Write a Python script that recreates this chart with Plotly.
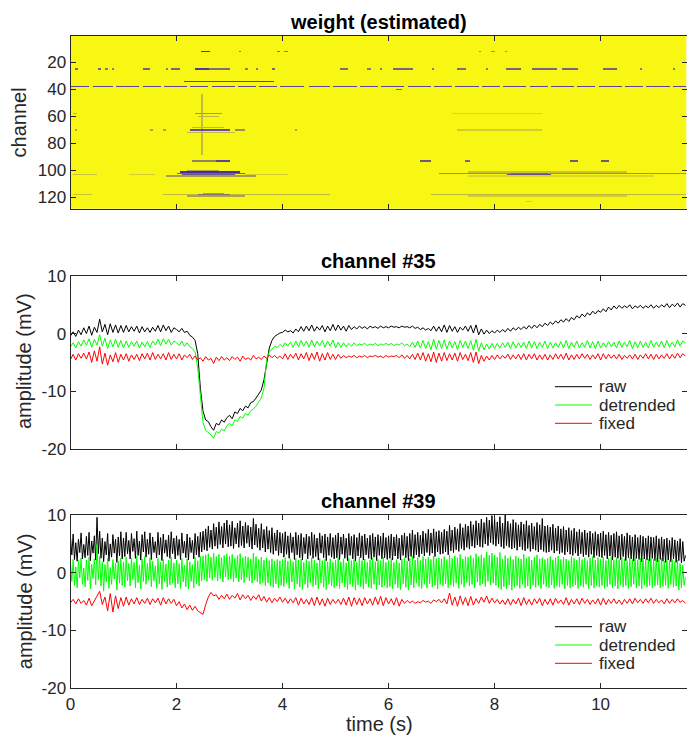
import numpy as np
import plotly.graph_objects as go

DT = 0.05          # sample spacing of channel #35 traces and the channel #39 "fixed" trace (s)
DT_FAST = 0.025    # sample spacing of the noisy channel #39 raw / detrended traces (s)
T_MAX = 11.62      # right end of the time axis (s)

raw35 = [
    -0.4, 0.3, -0.5, 0.6, -0.2, 1.0, 0.0, 1.3, -0.3, 1.1, 0.2, 2.5, 0.3, 1.6, -0.2, 1.7, 0.2, 1.5, 0.1, 1.4,
    0.2, 1.4, 0.3, 1.2, 0.4, 1.3, 0.1, 1.2, 0.3, 1.0, 0.2, 1.1, 0.4, 1.4, 0.3, 1.5, 0.5, 1.3, 0.2, 1.0,
    0.7, 0.3, 0.9, 0.2, 0.4, -0.3, -0.6, -1.2, -3.5, -9.5, -13.5, -15.0, -15.3, -16.2, -16.8, -15.6, -15.9, -15.0, -15.4, -14.6,
    -14.2, -14.8, -13.6, -13.9, -13.0, -13.4, -12.6, -12.9, -12.0, -11.8, -11.2, -10.6, -9.8, -8.0, -5.0, -2.5, -1.2, -0.5, -0.2, 0.1,
    0.2, 0.6, 0.3, 0.5, 0.1, 0.8, 0.3, 1.2, 0.4, 1.3, 0.5, 1.5, 0.4, 1.2, 0.6, 1.4, 0.3, 1.3, 0.5, 1.6,
    0.5, 1.5, 0.6, 1.3, 0.4, 1.4, 0.7, 1.2, 0.8, 1.3, 0.9, 1.2, 0.8, 1.3, 1.0, 1.2, 0.9, 1.3, 1.0, 1.2,
    1.0, 1.3, 1.1, 1.2, 1.0, 1.3, 1.1, 1.2, 1.0, 1.3, 0.9, 1.1, 0.7, 1.0, 0.6, 0.9, 0.5, 1.3, 0.4, 1.2,
    0.3, 1.5, 0.2, 1.4, 0.4, 1.2, 0.2, 1.1, 0.6, 1.3, 0.4, 1.4, 0.1, 1.5, -0.2, 0.8, -0.1, 0.6, 0.0, 0.5,
    0.1, 0.6, 0.2, 0.7, 0.3, 0.9, 0.4, 1.0, 0.6, 1.1, 0.7, 1.2, 0.8, 1.4, 0.9, 1.5, 1.0, 1.6, 1.2, 1.8,
    1.4, 2.0, 1.6, 2.2, 1.8, 2.4, 2.0, 2.6, 2.1, 2.8, 2.4, 3.1, 2.7, 3.4, 2.9, 3.6, 3.2, 3.9, 3.4, 4.0,
    3.7, 4.3, 3.8, 4.6, 4.1, 4.8, 4.3, 4.9, 4.4, 4.8, 4.5, 5.0, 4.3, 4.8, 4.5, 4.9, 4.4, 4.8, 4.5, 5.0,
    4.4, 4.9, 4.5, 5.0, 4.6, 5.2, 4.5, 5.1, 4.7, 5.3, 4.6, 5.2, 4.9,
]
det35 = [
    -2.3, -1.6, -2.5, -1.4, -2.2, -1.1, -2.0, -0.9, -2.4, -1.0, -2.0, -0.2, -2.2, -0.8, -2.6, -1.1, -2.3, -1.0, -2.4, -1.2,
    -2.5, -1.3, -2.4, -1.4, -2.2, -1.3, -2.5, -1.5, -2.3, -1.4, -2.4, -1.3, -2.0, -1.0, -2.1, -0.9, -1.8, -1.0, -2.0, -1.3,
    -1.6, -2.1, -1.3, -2.2, -1.6, -2.3, -2.6, -3.2, -6.0, -11.5, -15.5, -16.8, -17.2, -17.6, -18.2, -17.0, -17.3, -16.6, -16.9, -16.0,
    -15.6, -16.0, -15.0, -15.3, -14.4, -14.7, -13.9, -14.2, -13.4, -13.1, -12.6, -12.0, -11.2, -9.5, -4.5, -3.2, -2.6, -2.2, -2.4, -1.9,
    -2.3, -1.6, -2.2, -1.5, -2.4, -1.3, -2.3, -1.2, -2.2, -1.3, -2.4, -1.1, -2.3, -1.3, -2.1, -1.2, -2.4, -1.3, -2.2, -1.1,
    -2.5, -1.5, -2.4, -1.6, -2.3, -1.7, -2.2, -1.6, -2.1, -1.8, -2.0, -1.7, -2.1, -1.8, -2.0, -1.7, -2.1, -1.8, -2.0, -1.7,
    -2.0, -1.7, -2.1, -1.8, -2.0, -1.6, -2.1, -1.8, -2.3, -1.5, -2.4, -1.3, -2.5, -1.2, -2.6, -1.4, -2.8, -1.0, -2.7, -1.2,
    -2.6, -1.1, -2.7, -1.3, -2.5, -1.4, -2.8, -1.2, -2.4, -1.3, -2.6, -1.2, -2.9, -1.0, -3.0, -1.6, -2.8, -1.8, -2.7, -1.7,
    -2.6, -1.7, -2.5, -1.6, -2.4, -1.5, -2.6, -1.4, -2.5, -1.6, -2.4, -1.5, -2.6, -1.3, -2.5, -1.4, -2.6, -1.5, -2.4, -1.3,
    -2.6, -1.5, -2.5, -1.6, -2.4, -1.4, -2.5, -1.2, -2.6, -1.5, -2.4, -1.3, -2.5, -1.6, -2.4, -1.2, -2.5, -1.4, -2.6, -1.3,
    -2.5, -1.6, -2.4, -1.4, -2.3, -1.5, -2.5, -1.3, -2.4, -1.5, -2.3, -1.2, -2.6, -1.4, -2.5, -1.3, -2.4, -1.5, -2.5, -1.2,
    -2.4, -1.5, -2.3, -1.3, -2.5, -1.2, -2.4, -1.5, -2.3, -1.1, -2.2, -1.3, -1.6,
]
fix35 = [
    -4.5, -3.6, -4.6, -3.5, -4.3, -3.4, -4.4, -3.2, -5.0, -3.0, -4.8, -2.3, -5.3, -3.4, -5.5, -3.7, -4.9, -3.3, -5.0, -3.6,
    -4.6, -3.5, -4.8, -3.7, -4.5, -3.6, -4.7, -3.5, -4.4, -3.4, -4.6, -3.3, -4.5, -3.6, -4.4, -3.5, -4.6, -3.3, -4.5, -3.6,
    -4.4, -3.5, -4.6, -3.7, -4.2, -3.6, -4.5, -3.9, -4.6, -4.2, -4.8, -4.0, -4.6, -4.3, -5.2, -4.1, -4.7, -4.0, -4.6, -4.2,
    -4.7, -4.0, -4.5, -4.1, -4.8, -3.9, -4.5, -4.2, -4.6, -3.8, -4.4, -4.1, -4.5, -3.9, -4.3, -3.7, -4.2, -3.8, -4.3, -3.9,
    -4.4, -3.5, -4.5, -3.6, -4.3, -3.4, -4.6, -3.5, -4.4, -3.3, -4.7, -3.4, -4.5, -3.2, -4.8, -3.5, -4.6, -3.3, -4.5, -3.6,
    -4.5, -3.6, -4.3, -3.8, -4.2, -3.9, -4.1, -3.8, -4.2, -3.9, -4.1, -3.8, -4.2, -3.9, -4.0, -3.8, -4.1, -3.9, -4.2, -3.8,
    -4.1, -3.9, -4.0, -3.8, -4.2, -3.7, -4.3, -3.8, -4.4, -3.6, -4.5, -3.4, -4.6, -3.3, -4.8, -3.5, -4.9, -3.2, -5.0, -3.4,
    -4.8, -3.3, -4.7, -3.5, -4.6, -3.4, -4.8, -3.3, -4.5, -3.6, -4.7, -3.3, -5.0, -3.2, -5.2, -3.8, -4.8, -3.9, -4.6, -3.8,
    -4.5, -3.7, -4.4, -3.8, -4.3, -3.6, -4.5, -3.7, -4.4, -3.6, -4.5, -3.5, -4.6, -3.6, -4.4, -3.5, -4.6, -3.7, -4.5, -3.6,
    -4.6, -3.7, -4.5, -3.5, -4.4, -3.6, -4.5, -3.4, -4.6, -3.7, -4.5, -3.6, -4.4, -3.5, -4.3, -3.6, -4.5, -3.7, -4.4, -3.5,
    -4.6, -3.5, -4.4, -3.6, -4.3, -3.7, -4.4, -3.6, -4.5, -3.8, -4.3, -3.7, -4.4, -3.6, -4.5, -3.7, -4.3, -3.5, -4.4, -3.6,
    -4.5, -3.6, -4.4, -3.7, -4.3, -3.5, -4.4, -3.6, -4.3, -3.4, -4.2, -3.5, -3.9,
]
raw39 = [
    6.1, 3.1, 6.7, 2.3, 5.2, 2.0, 5.8, 3.5, 6.9, 2.4, 4.9, 2.6, 6.3, 3.0, 7.0, 2.1, 5.5, 3.4, 6.4, 2.2,
    9.6, 3.3, 7.2, 2.5, 6.0, 1.9, 5.4, 3.1, 6.8, 2.0, 5.0, 2.7, 6.6, 3.4, 5.8, 1.8, 6.2, 2.9, 7.1, 2.4,
    6.0, 2.8, 7.0, 3.3, 5.6, 2.4, 6.8, 3.7, 5.9, 2.5, 7.2, 3.0, 5.5, 2.2, 6.6, 3.6, 7.1, 2.7, 5.8, 3.2,
    6.9, 2.3, 6.2, 3.5, 5.4, 2.6, 7.0, 3.1, 6.1, 2.1, 6.7, 3.4, 5.7, 2.8, 6.5, 2.5, 7.1, 3.3, 6.0, 2.4,
    6.4, 3.0, 5.8, 2.3, 6.9, 3.4, 5.5, 2.6, 6.7, 2.2, 6.1, 3.5, 5.6, 2.4, 6.8, 3.1, 6.3, 2.7, 7.0, 3.6,
    7.2, 4.0, 7.6, 3.8, 8.1, 4.4, 7.4, 4.1, 8.5, 4.6, 7.9, 4.2, 8.8, 4.9, 8.0, 4.3, 8.6, 5.0, 9.1, 4.5,
    8.3, 4.6, 8.9, 4.2, 7.8, 5.0, 8.6, 4.4, 9.0, 4.7, 8.1, 4.3, 8.7, 5.1, 8.2, 4.5, 7.9, 4.1, 9.4, 4.8,
    8.4, 4.4, 7.7, 3.9, 8.5, 4.3, 7.5, 3.6, 8.0, 4.1, 7.3, 3.5, 7.8, 3.2, 6.9, 3.8, 7.4, 3.0, 7.0, 3.4,
    6.8, 2.7, 7.1, 3.2, 6.4, 2.5, 6.9, 3.5, 6.2, 2.3, 7.0, 3.1, 6.5, 2.6, 6.8, 2.2, 6.1, 3.3, 6.7, 2.4,
    6.3, 3.0, 7.0, 2.5, 6.6, 2.8, 6.0, 2.2, 6.9, 3.4, 6.4, 2.6, 6.7, 2.1, 6.2, 3.0, 6.8, 2.7, 6.1, 2.4,
    6.5, 2.6, 6.9, 2.3, 6.2, 3.2, 6.7, 2.5, 6.0, 2.1, 6.8, 3.0, 6.3, 2.4, 6.6, 2.0, 6.1, 2.9, 6.9, 2.6,
    6.4, 2.2, 6.7, 3.1, 6.0, 2.5, 6.5, 2.3, 6.8, 2.7, 6.2, 2.1, 6.6, 3.0, 6.3, 2.4, 6.9, 2.6, 6.1, 2.3,
    6.4, 2.5, 6.7, 2.2, 6.2, 2.9, 6.6, 2.4, 6.0, 2.2, 6.5, 3.0, 6.9, 2.6, 6.3, 2.1, 6.8, 2.8, 7.4, 2.5,
    6.6, 3.1, 7.0, 2.7, 6.5, 3.3, 7.2, 2.9, 6.8, 3.5, 7.5, 3.0, 6.9, 3.4, 7.6, 2.8, 7.1, 3.6, 7.3, 3.2,
    7.0, 3.3, 7.5, 3.6, 7.2, 3.1, 8.2, 3.8, 7.4, 3.5, 7.9, 4.0, 7.6, 3.7, 8.5, 4.2, 7.8, 3.9, 8.4, 4.4,
    8.1, 4.1, 8.9, 4.6, 8.3, 4.3, 9.0, 4.8, 8.6, 4.5, 9.3, 4.4, 8.7, 5.0, 9.6, 4.7, 9.1, 5.2, 9.9, 4.9,
    9.4, 4.6, 8.8, 5.0, 9.7, 4.5, 8.6, 4.2, 10.0, 4.7, 8.9, 4.4, 8.5, 4.1, 9.2, 4.3, 8.7, 3.9, 8.3, 4.5,
    8.8, 4.0, 8.4, 3.8, 9.0, 4.2, 8.2, 3.7, 8.6, 4.1, 8.0, 3.9, 8.7, 3.6, 8.3, 4.0, 9.4, 3.7, 8.1, 3.5,
    8.2, 3.6, 7.9, 3.9, 8.4, 3.4, 7.7, 3.8, 8.1, 3.3, 7.6, 3.5, 8.0, 3.1, 7.4, 3.6, 7.8, 3.2, 7.3, 3.0,
    7.7, 3.4, 7.1, 2.9, 7.5, 3.3, 7.0, 2.8, 7.4, 3.1, 6.9, 2.7, 7.2, 3.2, 6.8, 2.6, 7.1, 3.0, 6.7, 2.8,
    6.9, 2.6, 7.2, 3.0, 6.6, 2.4, 7.0, 2.9, 6.5, 2.2, 6.8, 2.7, 7.1, 2.5, 6.4, 2.3, 6.7, 2.8, 6.3, 2.1,
    6.9, 2.6, 6.5, 2.4, 6.2, 2.0, 6.6, 2.5, 6.1, 2.3, 6.5, 1.9, 6.3, 2.4, 6.0, 2.2, 6.4, 2.0, 6.2, 2.5,
    6.1, 2.1, 6.4, 1.9, 5.9, 2.3, 6.2, 2.0, 5.8, 1.8, 6.0, 2.2, 5.6, 1.9, 6.1, 2.4, 5.7, 1.8, 5.5, 2.1,
    5.9, 1.7, 5.4, 2.0, 3.0,
]
det39 = [
    1.8, -1.5, 2.3, -2.2, 1.0, -2.6, 2.1, -0.9, 2.6, -2.0, 0.8, -2.4, 2.2, -1.3, 2.7, -2.8, 1.5, -1.0, 2.4, -2.1,
    4.9, -1.2, 2.8, -2.3, 1.9, -3.2, 1.4, -1.6, 2.5, -2.7, 0.9, -2.0, 2.3, -1.1, 1.7, -3.0, 2.0, -1.8, 2.6, -2.2,
    1.9, -2.5, 2.7, -1.4, 1.6, -2.3, 2.5, -1.2, 1.8, -2.6, 2.9, -1.7, 1.3, -2.8, 2.4, -1.5, 2.8, -2.0, 1.6, -1.3,
    2.6, -2.4, 2.0, -1.4, 1.2, -2.7, 2.5, -1.9, 1.8, -2.9, 2.3, -1.6, 1.5, -2.5, 2.2, -2.1, 2.7, -1.8, 1.7, -2.6,
    2.2, -1.9, 1.6, -2.7, 2.5, -1.6, 1.3, -2.4, 2.4, -2.8, 1.9, -1.5, 1.4, -2.6, 2.6, -1.9, 2.1, -2.3, 2.8, -1.4,
    2.9, -1.2, 3.1, -1.5, 3.3, -0.9, 2.7, -1.3, 3.4, -0.8, 2.8, -1.4, 3.2, -1.0, 2.6, -1.6, 3.0, -0.7, 3.3, -1.2,
    2.9, -1.1, 3.2, -1.5, 2.5, -0.9, 3.0, -1.6, 3.3, -1.2, 2.6, -1.7, 2.9, -0.8, 2.7, -1.4, 2.4, -1.8, 3.4, -1.3,
    2.8, -1.6, 2.3, -2.0, 2.7, -1.7, 2.2, -2.2, 2.6, -1.8, 2.1, -2.3, 2.4, -2.5, 2.0, -1.9, 2.3, -2.6, 2.1, -2.2,
    2.3, -2.4, 2.6, -1.8, 2.0, -2.7, 2.4, -1.6, 1.9, -2.8, 2.5, -1.9, 2.2, -2.5, 2.4, -2.9, 1.8, -2.0, 2.3, -2.6,
    2.0, -1.7, 2.6, -2.4, 2.2, -2.1, 1.7, -2.8, 2.5, -1.8, 2.1, -2.5, 2.3, -2.9, 1.9, -2.0, 2.4, -2.3, 1.8, -2.6,
    2.2, -2.3, 2.6, -2.7, 1.9, -1.8, 2.4, -2.5, 1.7, -2.9, 2.5, -2.0, 2.1, -2.4, 2.3, -3.0, 1.8, -2.1, 2.7, -2.4,
    2.1, -2.8, 2.4, -1.9, 1.8, -2.5, 2.2, -2.7, 2.6, -2.0, 1.9, -2.9, 2.3, -2.1, 2.1, -2.5, 2.7, -2.2, 1.8, -2.6,
    2.1, -2.4, 2.5, -2.8, 1.8, -2.0, 2.3, -2.6, 1.7, -2.9, 2.4, -1.9, 2.6, -2.5, 2.0, -3.0, 2.5, -2.1, 2.9, -2.6,
    2.2, -1.8, 2.6, -2.4, 2.1, -2.7, 2.8, -2.0, 2.4, -2.6, 2.7, -1.9, 2.3, -2.5, 2.9, -2.2, 2.5, -2.8, 2.6, -2.0,
    2.4, -2.3, 2.8, -1.9, 2.3, -2.6, 3.1, -2.1, 2.5, -2.4, 2.9, -1.8, 2.6, -2.7, 3.2, -2.0, 2.4, -2.5, 2.8, -1.7,
    2.7, -2.3, 3.0, -2.0, 2.5, -2.6, 3.3, -1.6, 2.8, -2.2, 3.1, -1.9, 2.6, -2.4, 3.6, -1.5, 3.0, -2.1, 3.4, -1.8,
    3.1, -2.2, 2.7, -2.6, 3.5, -2.9, 2.4, -2.4, 3.0, -2.8, 2.5, -2.1, 2.8, -3.0, 2.3, -2.5, 2.9, -2.2, 2.6, -2.7,
    2.4, -2.0, 3.2, -2.6, 2.5, -2.3, 2.8, -2.8, 2.2, -2.1, 2.7, -2.5, 3.1, -2.2, 2.4, -2.7, 2.6, -2.0, 2.3, -2.4,
    2.5, -2.6, 2.8, -2.1, 2.2, -2.7, 2.6, -2.3, 2.9, -2.5, 2.3, -2.0, 2.7, -2.8, 2.4, -2.2, 2.1, -2.6, 2.8, -2.4,
    2.5, -2.1, 2.2, -2.7, 2.7, -2.3, 2.3, -2.5, 2.6, -2.0, 2.1, -2.8, 2.5, -2.2, 2.8, -2.6, 2.2, -2.3, 2.6, -2.5,
    2.4, -2.2, 2.7, -2.7, 2.1, -2.4, 2.5, -2.0, 2.8, -2.6, 2.2, -2.3, 2.6, -2.8, 2.3, -2.1, 2.7, -2.5, 2.4, -2.2,
    2.1, -2.7, 2.6, -2.4, 2.3, -2.0, 2.8, -2.6, 2.2, -2.3, 2.5, -2.8, 2.7, -2.1, 2.3, -2.5, 2.4, -2.2, 2.6, -2.6,
    2.3, -2.3, 2.6, -2.1, 2.2, -2.6, 2.5, -2.4, 2.0, -2.2, 2.4, -2.7, 2.1, -2.0, 2.3, -2.5, 1.9, -2.3, 2.2, -3.0,
    1.6, -2.6, 1.3, -2.2, -0.8,
]
fix39 = [
    -5.2, -4.6, -5.4, -4.5, -5.3, -4.8, -5.6, -4.4, -5.7, -4.9, -4.0, -3.2, -5.5, -4.2, -6.6, -3.6, -6.8, -4.0, -6.2, -4.3,
    -5.8, -4.2, -5.6, -4.5, -5.4, -4.3, -5.5, -4.6, -5.3, -4.4, -5.5, -4.5, -5.2, -4.4, -5.6, -4.3, -5.4, -4.5, -5.3, -4.6,
    -5.7, -5.0, -6.1, -5.4, -6.4, -5.6, -6.5, -5.8, -6.6, -6.9, -7.2, -5.5, -4.2, -3.4, -4.0, -3.8, -4.6, -3.9, -4.5, -3.7,
    -4.6, -3.9, -4.4, -3.6, -4.7, -3.8, -4.5, -3.9, -4.8, -4.0, -4.6, -3.8, -4.9, -4.1, -5.1, -4.3, -5.2, -4.4, -5.0, -4.2,
    -5.1, -4.4, -5.3, -4.5, -5.2, -4.3, -5.6, -4.4, -5.4, -4.6, -5.5, -4.3, -5.7, -4.2, -5.6, -4.5, -5.8, -4.4, -5.5, -4.6,
    -5.3, -4.6, -5.5, -4.4, -5.6, -4.2, -5.8, -4.3, -5.5, -4.4, -5.7, -4.3, -5.4, -4.5, -5.6, -4.2, -5.5, -4.1, -5.7, -4.3,
    -5.4, -4.5, -5.6, -4.3, -5.8, -4.6, -5.3, -4.8, -5.2, -4.9, -5.3, -5.0, -5.2, -4.8, -5.1, -4.9, -5.3, -4.7, -5.0, -4.6,
    -5.2, -4.5, -5.4, -3.5, -5.6, -4.2, -5.8, -4.0, -5.5, -4.3, -5.7, -4.1, -5.6, -4.5, -5.3, -4.2, -5.1, -4.0, -5.3, -4.4,
    -5.2, -4.6, -5.4, -4.7, -5.5, -4.5, -5.6, -4.6, -5.4, -4.4, -5.7, -4.3, -5.5, -4.6, -5.6, -4.5, -5.3, -4.4, -5.7, -4.6,
    -5.5, -4.5, -5.6, -4.4, -5.3, -4.7, -5.5, -4.3, -5.6, -4.6, -5.4, -4.5, -5.5, -4.4, -5.3, -4.6, -5.5, -4.7, -5.4, -4.5,
    -5.6, -4.4, -5.5, -4.6, -5.3, -4.5, -5.4, -4.7, -5.5, -4.6, -5.3, -4.5, -5.4, -4.4, -5.2, -4.6, -5.3, -4.5, -5.2, -4.4,
    -5.3, -4.6, -5.2, -4.7, -5.4, -4.5, -5.3, -4.6, -5.2, -4.5, -5.1, -4.8, -5.3,
]

# ---------------- weight map (estimated): 1 = full weight, 0 = rejected ----------------
N_CHANNELS = 128
W_BIN = 0.02
# (channel, t_start, t_end, weight)
weight_strong = [
    (34, 2.14, 3.84, 0.15), (12, 2.47, 2.64, 0.1), (25, 2.35, 2.62, 0.1), (25, 2.62, 3.0, 0.35),
    (70, 2.27, 3.0, 0.2), (101, 2.07, 3.2, 0.05), (102, 2.0, 3.3, 0.3), (103, 2.1, 3.1, 0.25),
    (93, 2.75, 3.0, 0.15), (103, 8.25, 9.05, 0.2), (102, 8.3, 9.0, 0.35),
]
weight_row38 = [
    (0.0, 0.35), (0.42, 0.8), (0.86, 1.3), (1.36, 1.7), (1.76, 2.2), (2.26, 2.6), (2.66, 3.1),
    (3.16, 3.5), (3.56, 3.9), (3.96, 4.4), (4.5, 4.9), (4.96, 5.4), (5.46, 5.8), (5.86, 6.3),
    (6.36, 6.8), (6.86, 7.2), (7.26, 7.7), (7.76, 8.1), (8.16, 8.6), (8.66, 9.0), (9.06, 9.5),
    (9.56, 9.9), (9.96, 10.4), (10.46, 10.8), (10.86, 11.3), (11.36, 11.62),
]
weight_dashes = [
    (25, 0.08, 0.14, 0.3), (25, 0.52, 0.58, 0.3), (25, 0.66, 0.7, 0.4), (25, 0.78, 0.82, 0.4),
    (25, 1.37, 1.5, 0.3), (25, 1.8, 1.84, 0.4), (25, 1.9, 2.06, 0.3), (25, 3.3, 3.34, 0.4),
    (25, 3.5, 3.54, 0.4), (25, 3.8, 3.86, 0.3), (25, 5.08, 5.23, 0.35), (25, 5.6, 5.66, 0.4),
    (25, 5.84, 5.88, 0.4), (25, 6.08, 6.45, 0.3), (25, 6.82, 6.86, 0.4), (25, 7.3, 7.45, 0.35),
    (25, 7.85, 7.89, 0.4), (25, 8.23, 8.5, 0.3), (25, 8.7, 9.17, 0.3), (25, 9.29, 9.57, 0.3),
    (25, 10.04, 10.3, 0.3), (25, 10.74, 10.78, 0.4), (25, 11.36, 11.4, 0.4),
    (93, 2.3, 2.75, 0.45), (93, 6.6, 6.8, 0.25), (93, 7.45, 7.54, 0.3), (93, 9.42, 9.58, 0.25),
    (93, 10.0, 10.15, 0.25),
    (12, 3.18, 3.22, 0.4), (12, 3.9, 3.96, 0.4), (12, 4.02, 4.1, 0.4), (12, 7.7, 7.74, 0.5),
    (12, 7.95, 7.99, 0.5), (12, 8.2, 8.24, 0.5), (40, 6.15, 6.25, 0.3),
    (70, 0.08, 0.12, 0.6), (70, 1.5, 1.56, 0.6), (70, 1.75, 1.8, 0.6), (70, 3.1, 3.3, 0.5),
    (70, 4.24, 4.28, 0.6),
]
weight_faint = [
    (58, 2.35, 2.85, 0.55), (60, 2.4, 2.8, 0.7), (58, 0.05, 0.12, 0.7), (58, 7.2, 8.9, 0.85),
    (70, 7.3, 8.9, 0.8), (72, 2.2, 3.1, 0.7), (68, 2.3, 2.9, 0.7),
    (104, 1.8, 3.5, 0.55), (100, 2.2, 2.8, 0.6), (103, 0.05, 0.5, 0.75), (103, 1.1, 1.6, 0.8),
    (103, 3.3, 4.1, 0.8), (102, 6.97, 11.62, 0.5), (101, 7.5, 10.5, 0.75), (104, 7.5, 11.0, 0.85),
    (118, 1.75, 4.9, 0.7), (118, 2.4, 3.0, 0.35), (119, 2.2, 3.3, 0.6), (117, 2.5, 2.9, 0.6),
    (118, 0.05, 0.4, 0.75), (118, 6.8, 11.62, 0.7), (119, 7.5, 10.5, 0.8), (123, 8.6, 8.7, 0.8),
]
# vertical streak: (t_start, t_end, channel_start, channel_end, weight)
weight_vertical = [(2.47, 2.51, 44, 88, 0.72)]

CHANNEL_TICKS = [20, 40, 60, 80, 100, 120]
AMP_TICKS = [-20, -10, 0, 10]
AMP_TICK_LABELS = ["-20", "-10", "0", "10"]
TIME_TICKS = [0, 2, 4, 6, 8, 10]
LEGEND_NAMES = ["raw", "detrended", "fixed"]
LEGEND_COLORS = ["#000000", "#00ff00", "#ff0000"]

# ---------------- build weight matrix ----------------
n_cols = int(round(T_MAX / W_BIN))
xc = (np.arange(n_cols) + 0.5) * W_BIN
chans = np.arange(1, N_CHANNELS + 1)
W = np.ones((N_CHANNELS, n_cols))

def mark(ch, t0, t1, val):
    m = (xc >= t0) & (xc <= t1)
    if not m.any():
        d = np.abs(xc - (t0 + t1) / 2)
        m = d == d.min()
    W[ch - 1, m] = np.minimum(W[ch - 1, m], val)

for ch, t0, t1, v in weight_faint + weight_dashes + weight_strong:
    mark(ch, t0, t1, v)
for t0, t1 in weight_row38:
    mark(38, t0, t1, 0.15)
for t0, t1, c0, c1, v in weight_vertical:
    for ch in range(c0, c1 + 1):
        mark(ch, t0, t1, v)

# ---------------- figure ----------------
FONT = "Liberation Sans, Arial, sans-serif"
AX = "#262626"
W_PX, H_PX = 687, 738
X0, X1 = 70.5, 686.5
XDOM = [X0 / W_PX, X1 / W_PX]

def px_x(x):
    return x / W_PX

def px_y(y):
    return 1 - y / H_PX

def ydom(top_px, bot_px):
    return [px_y(bot_px), px_y(top_px)]

def axis(**kw):
    d = dict(showline=True, linecolor=AX, linewidth=1, mirror="ticks", ticks="inside",
             ticklen=5, tickcolor=AX, tickwidth=1, showgrid=False, zeroline=False,
             automargin=False, fixedrange=True,
             tickfont=dict(family=FONT, size=17, color=AX))
    d.update(kw)
    return d

fig = go.Figure()
fig.add_trace(go.Heatmap(
    z=W, x=xc, y=chans, zmin=0, zmax=1, showscale=False, hoverinfo="skip",
    colorscale=[[0, "#3e26a8"], [1, "#f7f713"]], xaxis="x", yaxis="y"))

panels = [
    ("x2", "y2", [(raw35, DT), (det35, DT), (fix35, DT)]),
    ("x3", "y3", [(raw39, DT_FAST), (det39, DT_FAST), (fix39, DT)]),
]
for xa, ya, series in panels:
    for (vals, dt), name, col in zip(series, LEGEND_NAMES, LEGEND_COLORS):
        t = [i * dt for i in range(len(vals))]
        fig.add_trace(go.Scatter(x=t, y=vals, mode="lines", name=name, showlegend=False,
                                 line=dict(color=col, width=1), xaxis=xa, yaxis=ya))

fig.update_layout(
    width=W_PX, height=H_PX, margin=dict(l=0, r=0, t=0, b=0),
    paper_bgcolor="white", plot_bgcolor="white", showlegend=False,
    xaxis=axis(domain=XDOM, anchor="y", range=[0, T_MAX], tickvals=TIME_TICKS, showticklabels=False),
    yaxis=axis(domain=ydom(36, 208.7), anchor="x", range=[N_CHANNELS + 0.5, 0.5], tickvals=CHANNEL_TICKS),
    xaxis2=axis(domain=XDOM, anchor="y2", range=[0, T_MAX], tickvals=TIME_TICKS, showticklabels=False),
    yaxis2=axis(domain=ydom(276, 448.7), anchor="x2", range=[-20, 10], tickvals=AMP_TICKS,
                ticktext=AMP_TICK_LABELS),
    xaxis3=axis(domain=XDOM, anchor="y3", range=[0, T_MAX], tickvals=TIME_TICKS),
    yaxis3=axis(domain=ydom(515, 688.3), anchor="x3", range=[-20, 10], tickvals=AMP_TICKS,
                ticktext=AMP_TICK_LABELS),
)

# panel titles
for txt, ypx in [("weight (estimated)", 22), ("channel #35", 261), ("channel #39", 500.5)]:
    fig.add_annotation(text="<b>%s</b>" % txt, xref="paper", yref="paper",
                       x=(XDOM[0] + XDOM[1]) / 2, y=px_y(ypx), xanchor="center", yanchor="middle",
                       showarrow=False, font=dict(family=FONT, size=20, color="#000000"))

# axis titles
for txt, xpx, ypx, ang in [("channel", 19, 122.4, -90), ("amplitude (mV)", 24.5, 361.5, -90),
                           ("amplitude (mV)", 24.5, 601.7, -90), ("time (s)", 379, 724, 0)]:
    fig.add_annotation(text=txt, xref="paper", yref="paper", x=px_x(xpx), y=px_y(ypx),
                       xanchor="center", yanchor="middle", textangle=ang, showarrow=False,
                       font=dict(family=FONT, size=20, color=AX))

# legends (drawn in the lower right of each trace panel)
for rows in ([386.7, 405.0, 423.3], [626.7, 645.0, 663.3]):
    for ypx, name, col in zip(rows, LEGEND_NAMES, LEGEND_COLORS):
        fig.add_shape(type="line", xref="paper", yref="paper", x0=px_x(555), x1=px_x(592),
                      y0=px_y(ypx), y1=px_y(ypx), line=dict(color=col, width=1))
        fig.add_annotation(text=name, xref="paper", yref="paper", x=px_x(597), y=px_y(ypx),
                           xanchor="left", yanchor="middle", showarrow=False,
                           font=dict(family=FONT, size=17, color=AX))

# the page's default 8px body margin would shift and clip the 687x738 figure
fig.write_html("out.html", config={"displayModeBar": False},
               post_script="document.body.style.margin='0';document.body.style.overflow='hidden';")
